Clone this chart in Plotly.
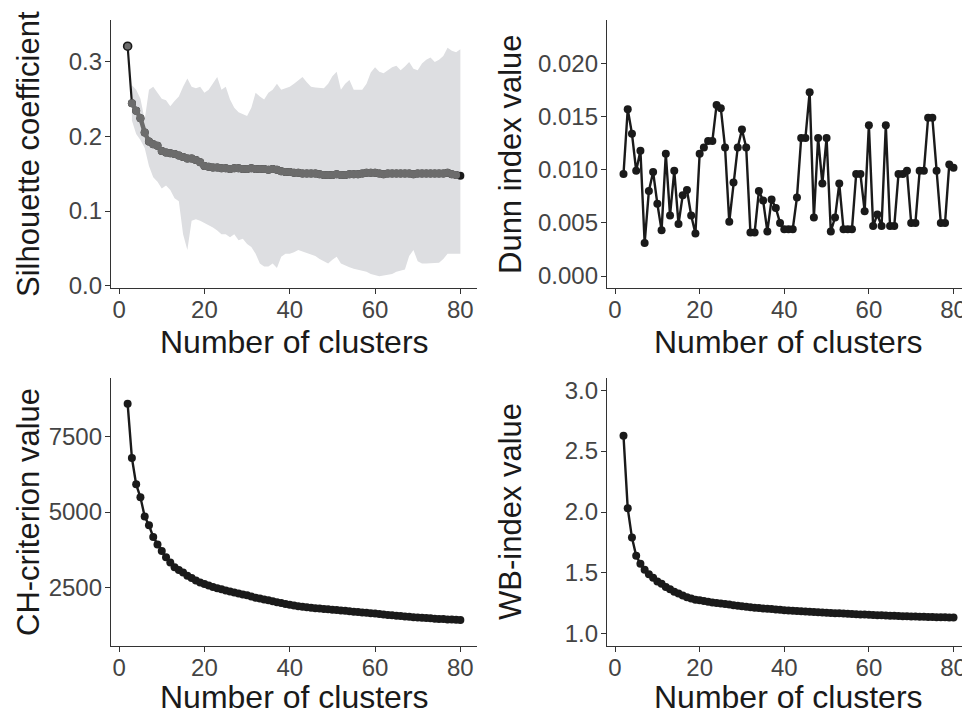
import plotly.graph_objects as go

# ---------------- data ----------------
k = list(range(2, 81))
k_band = list(range(3, 81))

sil_mean = [0.320, 0.244, 0.234, 0.224, 0.205, 0.193, 0.189, 0.187, 0.180, 0.178,
            0.177, 0.176, 0.174, 0.172, 0.170, 0.170, 0.168, 0.165, 0.160, 0.159,
            0.158, 0.158, 0.157, 0.157, 0.156, 0.157, 0.157, 0.156, 0.156, 0.157,
            0.156, 0.156, 0.156, 0.155, 0.156, 0.155, 0.153, 0.152, 0.152, 0.151,
            0.151, 0.150, 0.150, 0.150, 0.150, 0.149, 0.148, 0.148, 0.148, 0.149,
            0.148, 0.148, 0.149, 0.149, 0.149, 0.150, 0.151, 0.151, 0.151, 0.150,
            0.149, 0.150, 0.150, 0.150, 0.150, 0.150, 0.150, 0.149, 0.150, 0.150,
            0.150, 0.150, 0.150, 0.150, 0.150, 0.151, 0.149, 0.148, 0.147]

sil_upper = [0.268, 0.262, 0.250, 0.222, 0.262, 0.266, 0.258, 0.250, 0.248, 0.240,
             0.247, 0.253, 0.266, 0.277, 0.266, 0.264, 0.266, 0.258, 0.262, 0.270,
             0.279, 0.262, 0.266, 0.249, 0.238, 0.232, 0.229, 0.227, 0.238, 0.258,
             0.253, 0.249, 0.258, 0.262, 0.270, 0.262, 0.264, 0.266, 0.270, 0.275,
             0.279, 0.272, 0.266, 0.265, 0.264, 0.264, 0.270, 0.280, 0.286, 0.262,
             0.270, 0.275, 0.262, 0.262, 0.262, 0.270, 0.285, 0.292, 0.286, 0.284,
             0.288, 0.292, 0.294, 0.288, 0.293, 0.299, 0.290, 0.288, 0.297, 0.302,
             0.305, 0.299, 0.302, 0.307, 0.318, 0.314, 0.312, 0.316]

sil_lower = [0.221, 0.203, 0.195, 0.184, 0.160, 0.145, 0.139, 0.130, 0.134, 0.128,
             0.117, 0.113, 0.069, 0.048, 0.087, 0.089, 0.087, 0.084, 0.082, 0.078,
             0.074, 0.069, 0.069, 0.065, 0.069, 0.061, 0.063, 0.056, 0.052, 0.043,
             0.030, 0.026, 0.026, 0.030, 0.024, 0.039, 0.043, 0.043, 0.045, 0.048,
             0.046, 0.044, 0.043, 0.040, 0.036, 0.033, 0.030, 0.035, 0.039, 0.030,
             0.027, 0.025, 0.023, 0.022, 0.020, 0.019, 0.016, 0.014, 0.013, 0.014,
             0.015, 0.016, 0.019, 0.021, 0.022, 0.040, 0.048, 0.033, 0.030, 0.030,
             0.030, 0.030, 0.031, 0.036, 0.043, 0.043, 0.043, 0.043]

dunn = [0.0096, 0.0157, 0.0134, 0.0099, 0.0118, 0.0031, 0.0080, 0.0098, 0.0068, 0.0043,
        0.0115, 0.0057, 0.0099, 0.0049, 0.0076, 0.0081, 0.0057, 0.0040, 0.0115, 0.0121,
        0.0127, 0.0127, 0.0161, 0.0158, 0.0121, 0.0051, 0.0088, 0.0121, 0.0138, 0.0121,
        0.0041, 0.0041, 0.0080, 0.0071, 0.0042, 0.0072, 0.0064, 0.0050, 0.0044, 0.0044,
        0.0044, 0.0074, 0.0130, 0.0130, 0.0173, 0.0055, 0.0130, 0.0087, 0.0130, 0.0042,
        0.0055, 0.0087, 0.0044, 0.0044, 0.0044, 0.0096, 0.0096, 0.0061, 0.0142, 0.0047,
        0.0058, 0.0047, 0.0142, 0.0047, 0.0047, 0.0096, 0.0096, 0.0099, 0.0050, 0.0050,
        0.0099, 0.0099, 0.0149, 0.0149, 0.0099, 0.0050, 0.0050, 0.0105, 0.0102]

ch = [8600, 6800, 5920, 5490, 4850, 4560, 4170, 3920, 3700, 3490,
      3320, 3160, 3070, 2990, 2880, 2800, 2720, 2650, 2600, 2550,
      2500, 2460, 2430, 2390, 2350, 2320, 2290, 2250, 2225, 2190,
      2150, 2120, 2090, 2060, 2030, 2000, 1970, 1940, 1915, 1890,
      1865, 1845, 1830, 1815, 1800, 1790, 1775, 1760, 1745, 1735,
      1720, 1710, 1695, 1680, 1670, 1655, 1645, 1630, 1620, 1605,
      1590, 1575, 1565, 1550, 1535, 1520, 1510, 1500, 1490, 1480,
      1470, 1460, 1450, 1440, 1435, 1425, 1420, 1412, 1405]

wb = [2.625, 2.030, 1.790, 1.640, 1.575, 1.525, 1.490, 1.460, 1.430, 1.410,
      1.385, 1.365, 1.345, 1.330, 1.315, 1.300, 1.290, 1.280, 1.275, 1.270,
      1.263, 1.258, 1.253, 1.248, 1.244, 1.240, 1.235, 1.231, 1.227, 1.223,
      1.218, 1.214, 1.211, 1.208, 1.205, 1.203, 1.200, 1.197, 1.194, 1.192,
      1.190, 1.187, 1.185, 1.183, 1.181, 1.179, 1.177, 1.175, 1.173, 1.171,
      1.169, 1.168, 1.166, 1.164, 1.162, 1.161, 1.159, 1.158, 1.156, 1.155,
      1.153, 1.152, 1.150, 1.149, 1.148, 1.146, 1.145, 1.144, 1.143, 1.142,
      1.141, 1.140, 1.139, 1.138, 1.137, 1.136, 1.135, 1.134, 1.133]

x_ticks = [0, 20, 40, 60, 80]
sil_ticks = [0.0, 0.1, 0.2, 0.3]
sil_ticktext = ["0.0", "0.1", "0.2", "0.3"]
dunn_ticks = [0.000, 0.005, 0.010, 0.015, 0.020]
dunn_ticktext = ["0.000", "0.005", "0.010", "0.015", "0.020"]
ch_ticks = [2500, 5000, 7500]
ch_ticktext = ["2500", "5000", "7500"]
wb_ticks = [1.0, 1.5, 2.0, 2.5, 3.0]
wb_ticktext = ["1.0", "1.5", "2.0", "2.5", "3.0"]

x_title = "Number of clusters"
y_titles = ["Silhouette coefficient", "Dunn index value", "CH-criterion value", "WB-index value"]

# ---------------- figure ----------------
# the page body has an 8px default margin, so the figure is drawn 8px in from the
# window's top-left corner; size the figure so that it ends at the window edge.
OFF = 8
W, H = 970 - OFF, 716 - OFF
DARK = "#1a1a1a"
BAND = "#dddee1"
MEANG = "#6c6c6c"

fig = go.Figure()

fig.add_trace(go.Scatter(x=k_band, y=sil_lower, mode="lines", line=dict(width=0, color=BAND),
                         xaxis="x", yaxis="y", showlegend=False, hoverinfo="skip"))
fig.add_trace(go.Scatter(x=k_band, y=sil_upper, mode="lines", line=dict(width=0, color=BAND),
                         fill="tonexty", fillcolor=BAND,
                         xaxis="x", yaxis="y", showlegend=False, hoverinfo="skip"))
fig.add_trace(go.Scatter(x=k, y=sil_mean, mode="lines+markers",
                         line=dict(width=2.2, color=DARK), marker=dict(size=8, color=DARK),
                         xaxis="x", yaxis="y", showlegend=False))
fig.add_trace(go.Scatter(x=k[1:-1], y=sil_mean[1:-1], mode="lines+markers",
                         line=dict(width=4.5, color=MEANG), marker=dict(size=8, color=MEANG),
                         xaxis="x", yaxis="y", showlegend=False))
fig.add_trace(go.Scatter(x=k[:1], y=sil_mean[:1], mode="markers",
                         marker=dict(size=8, color=MEANG, line=dict(width=1.6, color=DARK)),
                         xaxis="x", yaxis="y", showlegend=False))

for xa, ya, vals in [("x2", "y2", dunn), ("x3", "y3", ch), ("x4", "y4", wb)]:
    fig.add_trace(go.Scatter(x=k, y=vals, mode="lines+markers",
                             line=dict(width=2.4, color=DARK), marker=dict(size=8, color=DARK),
                             xaxis=xa, yaxis=ya, showlegend=False))


def px_x(p):
    return (p - OFF) / W


def px_y(p):
    return 1 - (p - OFF) / H


left_dom = [px_x(111), px_x(477)]
right_dom = [px_x(607), px_x(970)]
top_dom = [px_y(288), px_y(20)]
bot_dom = [px_y(646), px_y(378)]

tickfont = dict(family="Liberation Sans, Arial, sans-serif", size=24, color="#444444")
axis_common = dict(showline=True, linecolor="#333333", linewidth=1.3, ticks="outside",
                   ticklen=5, tickwidth=1.3, tickcolor="#333333", showgrid=False,
                   zeroline=False, tickfont=tickfont, automargin=False, fixedrange=True)
xaxis_common = dict(axis_common, ticklabelstandoff=-5)
yaxis_common = dict(axis_common, ticklabelstandoff=-2)

xr = [-1.9, 83.9]
fig.update_layout(
    xaxis=dict(domain=left_dom, anchor="y", range=xr, tickvals=x_ticks, **xaxis_common),
    yaxis=dict(domain=top_dom, anchor="x", range=[-0.0027, 0.355], tickvals=sil_ticks,
               ticktext=sil_ticktext, **yaxis_common),
    xaxis2=dict(domain=right_dom, anchor="y2", range=xr, tickvals=x_ticks, **xaxis_common),
    yaxis2=dict(domain=top_dom, anchor="x2", range=[-0.00113, 0.0241], tickvals=dunn_ticks,
                ticktext=dunn_ticktext, **yaxis_common),
    xaxis3=dict(domain=left_dom, anchor="y3", range=xr, tickvals=x_ticks, **xaxis_common),
    yaxis3=dict(domain=bot_dom, anchor="x3", range=[540, 9460], tickvals=ch_ticks,
                ticktext=ch_ticktext, **yaxis_common),
    xaxis4=dict(domain=right_dom, anchor="y4", range=xr, tickvals=x_ticks, **xaxis_common),
    yaxis4=dict(domain=bot_dom, anchor="x4", range=[0.9, 3.1], tickvals=wb_ticks,
                ticktext=wb_ticktext, **yaxis_common),
)

titlefont = dict(family="Liberation Sans, Arial, sans-serif", size=32, color="#1a1a1a")
ytitlefont = dict(titlefont, size=31)
ann = []
for cx, cy in [(294, 342), (788, 342), (294, 697), (788, 697)]:
    ann.append(dict(text=x_title, x=px_x(cx), y=px_y(cy), xref="paper", yref="paper",
                    xanchor="center", yanchor="middle", showarrow=False, font=titlefont))
for t, (cx, cy) in zip(y_titles, [(28, 154), (510, 154), (28, 512), (510, 512)]):
    ann.append(dict(text=t, x=px_x(cx), y=px_y(cy), xref="paper", yref="paper",
                    xanchor="center", yanchor="middle", showarrow=False, textangle=-90,
                    font=ytitlefont))

fig.update_layout(
    width=W, height=H, margin=dict(l=0, r=0, t=0, b=0),
    paper_bgcolor="white", plot_bgcolor="white",
    showlegend=False, annotations=ann,
    font=dict(family="Liberation Sans, Arial, sans-serif"),
)

fig.write_html("out.html")
